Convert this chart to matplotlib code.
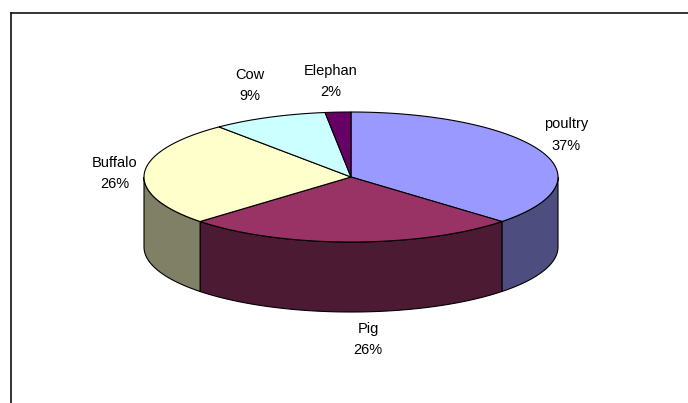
import numpy as np
import matplotlib.pyplot as plt
from matplotlib import font_manager
from matplotlib.patches import Polygon
from matplotlib.colors import to_rgb

animals = ['poultry', 'Pig', 'Buffalo', 'Cow', 'Elephan']
shares = [37, 26, 26, 9, 2]
top_colors = ['#9999FF', '#993366', '#FFFFCC', '#CCFFFF', '#660066']

# baseline anchor (pixels) of the first label line for each slice
label_pos = [(566, 128), (368, 333), (115, 167), (250, 79), (331, 75)]
line_gap = 21.5

# pie layout in pixels: centre, radii of the top ellipse, thickness
cx, cy, rx, ry, depth = 351, 177, 207, 65, 70

# condensed label font if present, plain Liberation Sans otherwise
names = {f.name for f in font_manager.fontManager.ttflist}
if 'Liberation Sans Narrow' in names:
    label_family, label_size = ['Liberation Sans Narrow', 'DejaVu Sans'], 11.5
else:
    label_family, label_size = ['Liberation Sans', 'DejaVu Sans'], 10.5

fig = plt.figure(figsize=(6.88, 4.03), dpi=100)
ax = fig.add_axes([0, 0, 1, 1])
ax.set_xlim(0, 688)
ax.set_ylim(403, 0)
ax.axis('off')


def rim(t0, t1, dy=0.0, n=200):
    t = np.linspace(t0, t1, n)
    return np.column_stack([cx + rx * np.cos(t), cy - ry * np.sin(t) + dy])


frac = np.array(shares, dtype=float) / sum(shares)
bounds = np.pi / 2 - 2 * np.pi * np.concatenate([[0], np.cumsum(frac)])

# side walls first (only the front half is visible)
for i, col in enumerate(top_colors):
    hi, lo = bounds[i], bounds[i + 1]
    lo_c, hi_c = max(lo, -np.pi), min(hi, 0.0)
    if lo_c >= hi_c:
        continue
    side = np.vstack([rim(lo_c, hi_c), rim(hi_c, lo_c, dy=depth)])
    dark = tuple(c * 0.5 for c in to_rgb(col))
    ax.add_patch(Polygon(side, closed=True, facecolor=dark,
                         edgecolor='black', linewidth=0.8, zorder=1))

# top faces
for i, col in enumerate(top_colors):
    pts = np.vstack([[cx, cy], rim(bounds[i], bounds[i + 1])])
    ax.add_patch(Polygon(pts, closed=True, facecolor=col,
                         edgecolor='black', linewidth=0.8, zorder=2))

# data labels
font = dict(fontsize=label_size, family=label_family,
            ha='center', va='baseline', color='black')
for name, val, (x, y) in zip(animals, shares, label_pos):
    ax.text(x, y, name, **font)
    ax.text(x, y + line_gap, f'{val}%', **font)

# chart area border (top and left edges)
ax.plot([11, 688], [12.7, 12.7], color='#111111', lw=1.2,
        solid_capstyle='projecting')
ax.plot([11, 11], [12.7, 403], color='#111111', lw=1.2,
        solid_capstyle='projecting')

fig.savefig('out.png', dpi=100)
